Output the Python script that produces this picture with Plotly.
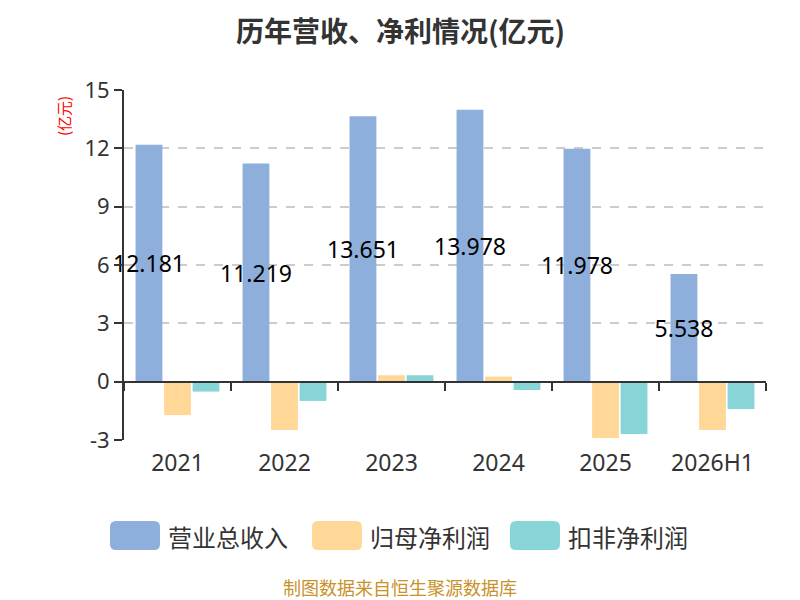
import plotly.graph_objects as go

years = ['2021', '2022', '2023', '2024', '2025', '2026H1']
revenue = [12.181, 11.219, 13.651, 13.978, 11.978, 5.538]
net_profit = [-1.72, -2.49, 0.33, 0.26, -2.90, -2.49]
net_profit_ex = [-0.51, -0.99, 0.33, -0.43, -2.69, -1.41]

names = ['营业总收入', '归母净利润', '扣非净利润']
colors = ['#8eaedb', '#ffd898', '#88d5d8']
y_ticks = [-3, 0, 3, 6, 9, 12, 15]
font_cn = 'Noto Sans CJK SC'

y_min, y_max = -3, 15

# figure margins; the page puts the figure a few px off the corner
OX, OY = 8, 8
L, R, T, B = 116, 42, 82, 168
W, H = 800, 600
PW, PH = W - L - R, H - T - B


def sx(x):
    """screen x pixel -> paper x"""
    return (x - OX - L) / PW


def sy(y):
    """screen y pixel -> paper y"""
    return (H - B - (y - OY)) / PH


fig = go.Figure()
fig.add_trace(go.Bar(
    x=years, y=revenue, name=names[0], marker_color=colors[0],
    text=revenue, texttemplate='%{y:.3f}', textposition='inside', textangle=0,
    insidetextanchor='middle', constraintext='none', cliponaxis=False,
    textfont=dict(color='#000', size=23, family='Noto Sans'),
))
fig.add_trace(go.Bar(x=years, y=net_profit, name=names[1], marker_color=colors[1]))
fig.add_trace(go.Bar(x=years, y=net_profit_ex, name=names[2], marker_color=colors[2]))
# empty trace so the zero-line axis gets drawn
fig.add_trace(go.Scatter(x=years, y=[None] * len(years), xaxis='x2', yaxis='y',
                         showlegend=False, hoverinfo='skip'))
fig.update_traces(marker_line_width=0, selector=dict(type='bar'))


def rounded_rect(x0, y0, x1, y1, r):
    # screen pixels in, paper-coord svg path out
    p = lambda x, y: f'{sx(x)},{sy(y)}'
    return (f'M {p(x0 + r, y0)} L {p(x1 - r, y0)} Q {p(x1, y0)} {p(x1, y0 + r)} '
            f'L {p(x1, y1 - r)} Q {p(x1, y1)} {p(x1 - r, y1)} '
            f'L {p(x0 + r, y1)} Q {p(x0, y1)} {p(x0, y1 - r)} '
            f'L {p(x0, y0 + r)} Q {p(x0, y0)} {p(x0 + r, y0)} Z')


# hand-made legend with big rounded swatches
legend_x = [110, 312, 510]  # screen px
shapes = []
annotations = []
for i, name in enumerate(names):
    shapes.append(dict(type='path', xref='paper', yref='paper',
                       path=rounded_rect(legend_x[i], 521, legend_x[i] + 50, 550, 6),
                       fillcolor=colors[i], line_width=0, layer='above'))
    annotations.append(dict(text=name, xref='paper', yref='paper',
                            x=sx(legend_x[i] + 56), y=sy(536),
                            xanchor='left', yanchor='middle', showarrow=False,
                            font=dict(size=24, color='#333', family=font_cn)))

annotations.append(dict(text='(亿元)', xref='paper', yref='paper', x=sx(63), y=sy(116),
                        textangle=-90, showarrow=False, xanchor='center', yanchor='middle',
                        font=dict(size=15, color='red', family=font_cn)))
annotations.append(dict(text='<b>历年营收、净利情况(亿元)</b>', xref='paper', yref='paper',
                        x=sx(400), y=sy(OY), xanchor='center', yanchor='top',
                        showarrow=False,
                        font=dict(size=28, color='#333', family=font_cn)))
annotations.append(dict(text='制图数据来自恒生聚源数据库', xref='paper', yref='paper',
                        x=sx(400), y=sy(587), xanchor='center', yanchor='middle',
                        showarrow=False, font=dict(size=18, color='#c8922a', family=font_cn)))

fig.update_layout(
    width=W, height=H,
    margin=dict(l=L, r=R, t=T, b=B),
    plot_bgcolor='white', paper_bgcolor='white',
    barmode='group', bargap=0.2, bargroupgap=0.06,
    showlegend=False,
    font=dict(family='Noto Sans', color='#333'),
    xaxis=dict(
        type='category', showline=False, ticks='', showgrid=False,
        tickfont=dict(size=23, color='#333'), ticklabelstandoff=7,
    ),
    xaxis2=dict(
        type='category', matches='x', overlaying='x', anchor='free',
        position=(0 - y_min) / (y_max - y_min),
        showline=True, linecolor='#333', linewidth=2,
        ticks='outside', tickson='boundaries', ticklen=8, tickwidth=2, tickcolor='#333',
        showticklabels=False, showgrid=False,
    ),
    yaxis=dict(
        range=[y_min, y_max], tickvals=y_ticks, ticktext=[str(v) for v in y_ticks],
        zeroline=False,
        showline=True, linecolor='#333', linewidth=2,
        ticks='outside', ticklen=8, tickwidth=2, tickcolor='#333',
        showgrid=True, gridcolor='#cccccc', griddash='dash', gridwidth=1.5,
        tickfont=dict(size=22, color='#333'),
    ),
    shapes=shapes,
    annotations=annotations,
)

fig.write_html('out.html')
